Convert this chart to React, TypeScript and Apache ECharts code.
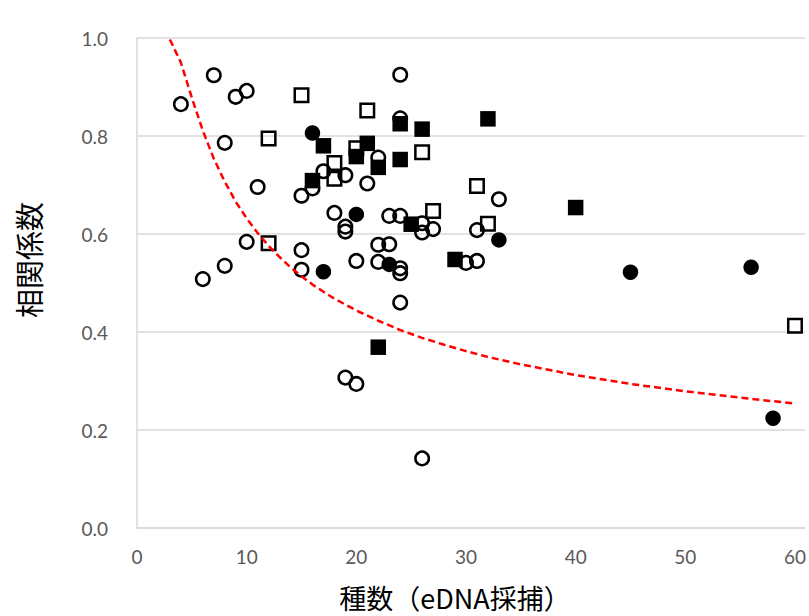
import React, { useEffect, useRef } from "react";
import * as echarts from "echarts";

const xTicks = [0, 10, 20, 30, 40, 50, 60];
const yTicks = [0, 0.2, 0.4, 0.6, 0.8, 1.0];

const openCircles: [number, number][] = [
  [4, 0.865], [7, 0.924], [9, 0.88], [10, 0.892], [8, 0.786], [11, 0.696],
  [6, 0.508], [8, 0.535], [10, 0.584], [15, 0.678], [16, 0.693], [17, 0.728],
  [19, 0.72], [21, 0.703], [24, 0.925], [24, 0.836], [22, 0.756], [18, 0.643],
  [19, 0.615], [19, 0.605], [23, 0.637], [24, 0.637], [26, 0.622], [26, 0.603],
  [27, 0.61], [31, 0.608], [33, 0.671], [15, 0.567], [15, 0.527], [20, 0.545],
  [22, 0.578], [23, 0.579], [22, 0.543], [24, 0.53], [24, 0.52], [30, 0.541],
  [31, 0.545], [24, 0.46], [19, 0.307], [20, 0.294], [26, 0.142],
];

const filledCircles: [number, number][] = [
  [16, 0.806], [20, 0.64], [17, 0.523], [23, 0.538], [33, 0.588],
  [45, 0.522], [56, 0.532], [58, 0.224],
];

const openSquares: [number, number][] = [
  [15, 0.883], [21, 0.852], [12, 0.795], [18, 0.745], [18, 0.713], [20, 0.775],
  [26, 0.767], [27, 0.647], [31, 0.698], [32, 0.621], [12, 0.581], [60, 0.413],
];

const filledSquares: [number, number][] = [
  [17, 0.78], [16, 0.709], [20, 0.758], [21, 0.785], [22, 0.736], [24, 0.825],
  [24, 0.752], [26, 0.814], [32, 0.835], [25, 0.62], [29, 0.548], [40, 0.654],
  [22, 0.369],
];

// critical correlation (red dashed) read as table values
const curveN = [3, 4, 5, 6, 7, 8, 9, 10, 11, 12, 13, 14, 15, 16, 17, 18, 19, 20, 22, 24, 26, 28, 30, 32, 35, 40, 45, 50, 55, 60];
const curveR = [0.997, 0.95, 0.878, 0.811, 0.754, 0.707, 0.666, 0.632, 0.602, 0.576, 0.553, 0.532, 0.514, 0.497, 0.482, 0.468, 0.456, 0.444, 0.423, 0.404, 0.388, 0.374, 0.361, 0.349, 0.334, 0.312, 0.294, 0.279, 0.266, 0.254];

const yTitle = "相関係数";
const xTitle = "種数（eDNA採捕）";

export default function App() {
  const ref = useRef<HTMLDivElement>(null);
  useEffect(() => {
    if (!ref.current) return;
    const chart = echarts.init(ref.current, null, { renderer: "svg" });
    const labelStyle = { color: "#595959", fontSize: 19, fontFamily: "Lato" };
    const openStyle = { color: "rgba(0,0,0,0)", borderColor: "#000", borderWidth: 2.5, opacity: 1 };
    const filledStyle = { color: "#000", borderColor: "#000", borderWidth: 0, opacity: 1 };
    chart.setOption({
      animation: false,
      grid: { left: 137, right: 4, top: 38, bottom: 88 },
      xAxis: {
        type: "value",
        min: 0,
        max: 60.9,
        interval: 10,
        axisLine: { show: true, lineStyle: { color: "#d9d9d9", width: 1.5 } },
        axisTick: { show: false },
        splitLine: { show: false },
        axisLabel: {
          ...labelStyle,
          margin: 19,
          showMaxLabel: false,
          formatter: (v: number) => (xTicks.includes(v) ? String(v) : ""),
        },
      },
      yAxis: {
        type: "value",
        min: 0,
        max: 1,
        interval: 0.2,
        axisLine: { show: true, lineStyle: { color: "#d9d9d9", width: 1.5 } },
        axisTick: { show: false },
        splitLine: { show: true, lineStyle: { color: "#d9d9d9", width: 1.5 } },
        axisLabel: {
          ...labelStyle,
          margin: 29,
          formatter: (v: number) => {
            const t = yTicks.find((y) => Math.abs(y - v) < 1e-9);
            return t === undefined ? "" : t.toFixed(1);
          },
        },
      },
      series: [
        { type: "scatter", name: "oc", data: openCircles, symbol: "circle", symbolSize: 13.5, itemStyle: openStyle, z: 2 },
        { type: "scatter", name: "fc", data: filledCircles, symbol: "circle", symbolSize: 15.5, itemStyle: filledStyle, z: 3 },
        { type: "scatter", name: "os", data: openSquares, symbol: "rect", symbolSize: 13.5, itemStyle: openStyle, z: 4 },
        { type: "scatter", name: "fs", data: filledSquares, symbol: "rect", symbolSize: 15.5, itemStyle: filledStyle, z: 5 },
        {
          type: "line",
          name: "curve",
          data: curveN.map((n, i) => [n, curveR[i]]),
          smooth: false,
          showSymbol: false,
          symbol: "none",
          lineStyle: { color: "#ff0000", width: 2.5, type: [7, 4] },
          z: 6,
        },
      ],
      graphic: [
        {
          type: "text",
          x: 28,
          y: 260,
          rotation: Math.PI / 2,
          style: {
            text: yTitle,
            fill: "#000",
            fontSize: 29,
            fontFamily: "Noto Sans CJK JP",
            align: "center",
            verticalAlign: "middle",
          },
        },
        {
          type: "text",
          x: 455,
          y: 597,
          style: {
            text: xTitle,
            fill: "#000",
            fontSize: 27,
            fontFamily: "Noto Sans CJK JP",
            align: "center",
            verticalAlign: "middle",
          },
        },
      ],
    });
    return () => chart.dispose();
  }, []);
  return <div ref={ref} style={{ width: 809, height: 616, position: "absolute", left: 0, top: 0 }} />;
}
